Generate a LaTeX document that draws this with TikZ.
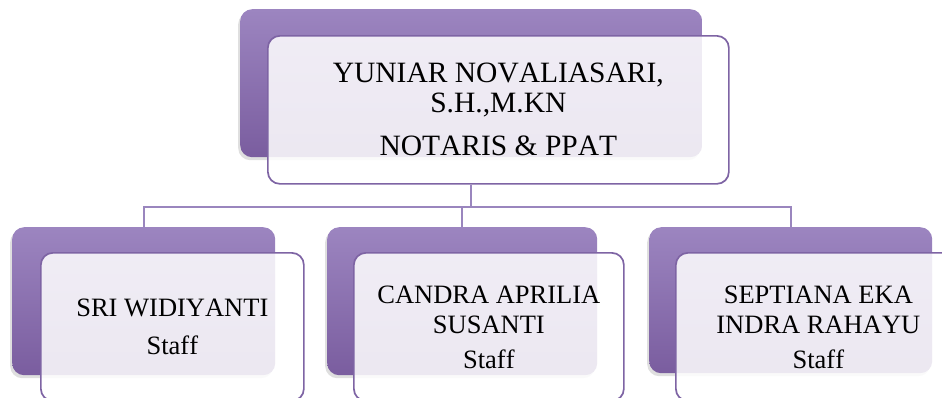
\documentclass[tikz,border=0pt]{standalone}
\usepackage{fontspec}
\setmainfont{Liberation Serif}[Kerning=Off]
\usetikzlibrary{shadows}

\definecolor{lilacTop}{HTML}{9C85C0}
\definecolor{lilacBot}{HTML}{7A5D9F}
\definecolor{lilacEdge}{HTML}{7E64A4}
\definecolor{lilacLink}{HTML}{9A86BE}

\tikzset{
  backbox/.style={anchor=north west,inner sep=0pt,rounded corners=12pt,
    top color=lilacTop,bottom color=lilacBot,draw=none,
    drop shadow={shadow xshift=-2pt,shadow yshift=-3pt,opacity=0.25}},
  frontbox/.style={anchor=north west,inner sep=0pt,rounded corners=12pt,
    draw=lilacEdge,line width=1.7pt,fill=white,fill opacity=0.86,
    draw opacity=1,text opacity=1,align=center,minimum height=148pt},
  link/.style={draw=lilacLink,line width=2pt}
}

\begin{document}
\begin{tikzpicture}[x=1pt,y=-1pt]
  \useasboundingbox (0,0) rectangle (942,397);
  \clip (0,0) rectangle (942,397);
  % head
  \node[backbox,minimum width=462pt,minimum height=148pt] (yunBack) at (240,9) {};
  \node[frontbox,minimum width=461pt,font=\fontsize{29.5}{30}\selectfont] (yunFront) at (267,35)
    {YUNIAR NOVALIASARI,\\S.H.,M.KN\\[13pt]NOTARIS \& PPAT};
  % staff
  \node[backbox,minimum width=263pt,minimum height=148pt] (sriBack) at (12,227) {};
  \node[frontbox,minimum width=263pt,font=\fontsize{26.5}{30}\selectfont] (sriFront) at (40,252)
    {SRI WIDIYANTI\\[8pt]Staff};
  \node[backbox,minimum width=270pt,minimum height=148pt] (candraBack) at (327,227) {};
  \node[frontbox,minimum width=270pt,font=\fontsize{26.5}{30}\selectfont] (candraFront) at (353,252)
    {CANDRA APRILIA\\SUSANTI\\[5pt]Staff};
  \node[backbox,minimum width=283pt,minimum height=146pt] (septiBack) at (649,227) {};
  \node[frontbox,minimum width=285pt,font=\fontsize{26.5}{30}\selectfont] (septiFront) at (675,252)
    {SEPTIANA EKA\\INDRA RAHAYU\\[5pt]Staff};
  % links
  \draw[link] (yunBack.south |- yunFront.south) -- ++(0,22) -| (sriBack.north);
  \draw[link] (yunBack.south |- yunFront.south) -- ++(0,22) -| (candraBack.north);
  \draw[link] (yunBack.south |- yunFront.south) -- ++(0,22) -| (septiBack.north);
\end{tikzpicture}
\end{document}
